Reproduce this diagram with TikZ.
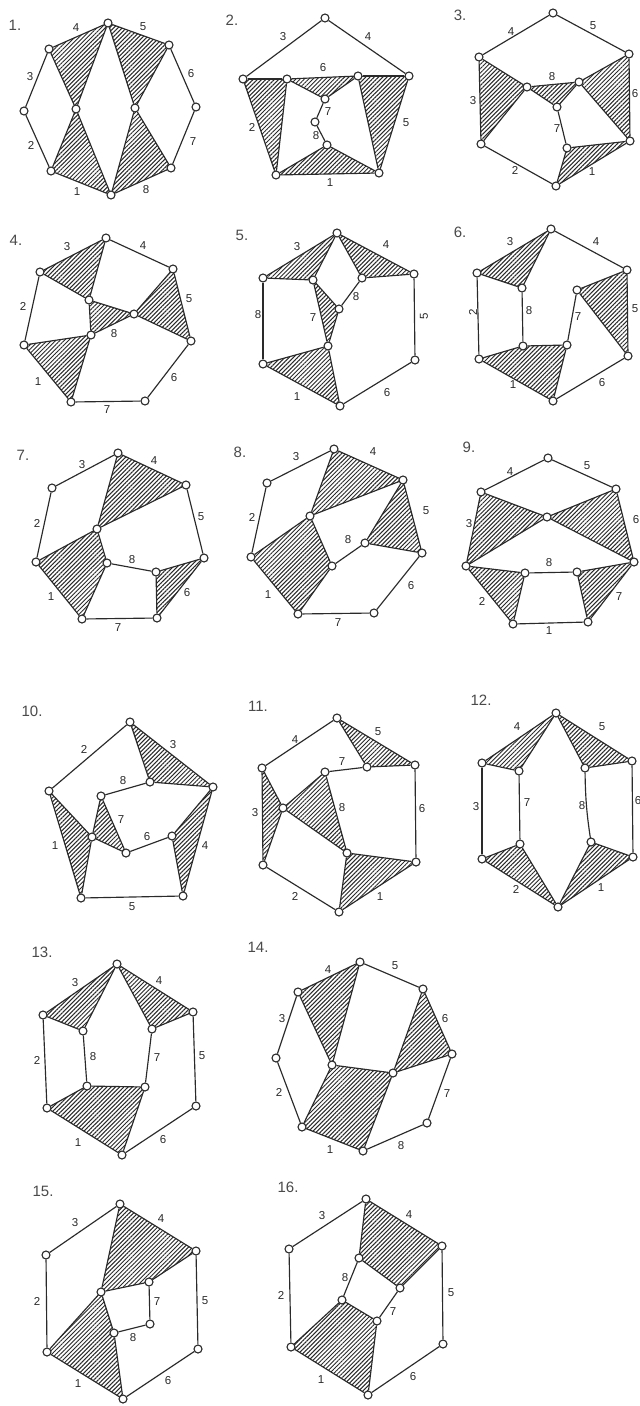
\documentclass[tikz,border=0pt]{standalone}
\usepackage{fontspec}
\setmainfont{Liberation Sans}
\usetikzlibrary{backgrounds,patterns.meta}
\definecolor{ink}{HTML}{2A2A2A}
\tikzset{
  vert/.style={circle,draw=ink,fill=white,line width=1.1pt,inner sep=0pt,minimum size=8pt},
  edge/.style={draw=ink,line width=1.15pt},
  hatch/.style={pattern={Lines[angle=45,distance=3pt,line width=1pt]},pattern color=ink},
  lab/.style={font=\fontsize{11.5}{13}\selectfont,text=ink,inner sep=0pt},
  ttl/.style={font=\fontsize{15}{17}\selectfont,text=ink!85,inner sep=0pt}
}
\newcommand\Vs[1]{\foreach \n/\x/\y in {#1}{\node[vert] (\n) at (\x,\y) {};}}
\newcommand\Es[1]{\begin{scope}[on background layer]\foreach \p/\q in {#1}{\draw[edge] (\p) -- (\q);}\end{scope}}
\newcommand\Bs[1]{\begin{scope}[on background layer]\foreach \p/\q/\r in {#1}{\draw[edge] (\p) to[bend left=\r] (\q);}\end{scope}}
\newcommand\Hs[1]{\begin{scope}[on background layer]\foreach \p/\q/\r/\s in {#1}{\fill[hatch] (\p.center) -- (\q.center) -- (\r.center) -- (\s.center) -- cycle;}\end{scope}}
\newcommand\Ls[1]{\foreach \t/\x/\y in {#1}{\node[lab] (l\t) at (\x,\y) {\t};}}
\newcommand\Tt[3]{\node[ttl] (title) at (#2,#3) {#1};}
\begin{document}
\begin{tikzpicture}[x=1pt,y=-1pt]
\useasboundingbox (0,0) rectangle (640,1406);
\begin{scope}[on background layer]
\fill[white] (0,0) rectangle (640,1406);
\end{scope}

\begin{scope}[name prefix=A-]
\Tt{1.}{15}{25}
\Vs{a/108/23,b/169/45,c/196/107,d/171/168,e/111/195,f/51/171,g/24/111,h/49/49,i/76/109,j/135/108}
\Hs{h/a/i/i,a/b/j/j,f/i/e/e,j/d/e/e}
\Es{h/a,a/b,b/c,c/d,d/e,e/f,f/g,g/h,h/i,b/j,f/i,j/d,a/i,a/j,i/e,j/e}
\Ls{1/77/192,8/146/190,7/193/142,6/191/74,5/143/27,4/76/28,3/30/77,2/31/145}
\end{scope}

\begin{scope}[name prefix=B-]
\Tt{2.}{232}{20}
\Vs{t/325/18,l/243/79,r/409/76,bl/276/175,br/379/173,u/287/79,v/358/76,p/325/99,q/315/122,s/327/145}
\Hs{l/u/bl/bl,v/r/br/br,u/v/p/p,bl/s/br/br}
\Es{t/l,t/r,l/u,u/v,v/r,l/bl,bl/br,br/r,u/bl,v/br,u/p,v/p,p/q,q/s,s/bl,s/br}
\Ls{3/283/37,4/368/37,5/406/123,1/330/183,2/252/127,6/323/68,7/328/112,8/316/136}
\end{scope}

\begin{scope}[name prefix=C-]
\Tt{3.}{460}{15}
\Vs{t/553/13,r/629/54,br/630/141,b/556/186,bl/481/144,l/479/57,m/527/87,n/579/82,o/557/107,p/567/148}
\Hs{l/m/bl/bl,m/n/o/o,n/r/br/br,p/br/b/b}
\Es{l/t,t/r,r/br,br/b,b/bl,bl/l,l/m,m/bl,m/n,n/r,n/br,m/o,n/o,o/p,p/br,p/b}
\Ls{4/511/32,5/593/26,6/635/94,1/592/172,2/515/170,3/473/101,8/552/77,7/557/129}
\end{scope}

\begin{scope}[name prefix=D-]
\Tt{4.}{16}{240}
\Vs{t/106/238,r/173/269,br/191/341,e/145/401,f/71/402,l/24/345,tl/40/272,a/89/300,b/91/335,c/134/314}
\Hs{tl/t/a/a,a/c/b/b,l/b/f/f,c/r/br/br}
\Es{tl/t,t/r,r/br,br/e,e/f,f/l,l/tl,tl/a,t/a,a/b,a/c,b/c,l/b,f/b,c/r,c/br}
\Ls{3/67/247,4/143/246,5/189/299,6/174/378,7/107/410,1/38/382,2/23/306,8/114/334}
\end{scope}

\begin{scope}[name prefix=E-]
\Tt{5.}{242}{235}
\Vs{t/337/233,r/414/274,br/415/360,b/340/406,bl/263/364,tl/263/278,a/313/280,c/362/278,d/339/309,e/328/346}
\Hs{tl/t/a/a,t/r/c/c,a/d/e/e,bl/e/b/b}
\Es{tl/t,t/r,r/br,br/b,b/bl,bl/tl,tl/a,a/t,t/c,c/r,c/d,d/a,a/e,d/e,bl/e,e/b}
\Ls{3/297/247,4/386/245,6/387/393,1/297/397,7/313/318}
\node[lab] (l2) at (258,315) {8};
\node[lab] (l8) at (356,297) {8};
\node[lab,rotate=90] (l5) at (424,316) {5};
\end{scope}

\begin{scope}[name prefix=F-]
\Tt{6.}{460}{232}
\Vs{t/551/229,r/627/270,br/628/356,b/553/401,bl/479/359,tl/477/273,a/522/288,c/523/346,d/567/345,e/577/290}
\Hs{tl/t/a/a,bl/c/d/b,e/r/br/br}
\Es{tl/t,t/r,r/br,br/b,b/bl,bl/tl,tl/a,t/a,a/c,bl/c,c/d,d/b,d/e,e/r,e/br}
\Ls{3/510/242,4/596/242,5/635/309,6/602/383,1/513/385,8/529/311,7/578/317}
\node[lab,rotate=90] (l2) at (473,312) {2};
\end{scope}

\begin{scope}[name prefix=G-]
\Tt{7.}{23}{455}
\Vs{t/118/453,r/186/485,br/204/558,e/157/618,f/82/619,l/36/562,tl/52/488,a/97/529,b/107/563,c/156/572}
\Hs{t/r/a/a,l/a/b/f,c/br/e/e}
\Es{tl/t,t/r,r/br,br/e,e/f,f/l,l/tl,t/a,a/r,l/a,a/b,b/f,b/c,c/br,c/e}
\Ls{3/82/465,4/154/461,5/201/517,6/187/593,7/118/628,1/51/597,2/37/523,8/132/560}
\end{scope}

\begin{scope}[name prefix=H-]
\Tt{8.}{240}{452}
\Vs{t/334/449,r/403/480,br/422/553,e/374/613,f/298/614,l/251/557,tl/267/483,a/310/516,b/332/566,c/365/543}
\Hs{t/r/a/a,l/a/b/f,c/r/br/br}
\Es{tl/t,t/r,r/br,br/e,e/f,f/l,l/tl,t/a,a/r,l/a,a/b,b/f,b/c,c/r,c/br}
\Ls{3/296/457,4/373/452,5/426/511,6/411/586,7/338/623,1/268/595,2/252/517,8/348/540}
\end{scope}

\begin{scope}[name prefix=I-]
\Tt{9.}{469}{447}
\Vs{t/548/458,r/616/489,br/634/562,e/588/622,f/513/624,l/466/566,tl/481/492,a/547/517,b/525/573,c/577/572}
\Hs{tl/a/l/l,a/r/br/br,l/b/f/f,c/br/e/e}
\Es{tl/t,t/r,r/br,br/e,e/f,f/l,l/tl,tl/a,a/r,a/l,a/br,l/b,b/c,c/br,b/f,c/e}
\Ls{4/510/472,5/587/466,6/636/520,7/619/597,1/549/631,2/482/601,3/469/524,8/549/563}
\end{scope}

\begin{scope}[name prefix=J-]
\Tt{10.}{32}{711}
\Vs{t/130/722,r/213/787,br/183/896,bl/81/898,l/49/791,a/150/782,b/101/796,c/92/837,d/126/853,e/172/836}
\Hs{t/r/a/a,l/c/bl/bl,b/d/c/c,e/r/br/br}
\Es{l/t,t/r,r/br,br/bl,bl/l,t/a,a/r,a/b,b/c,b/d,c/d,d/e,e/r,e/br,l/c,c/bl}
\Ls{2/84/749,3/173/745,8/123/781,7/121/820,6/147/837,4/205/846,5/132/907,1/55/846}
\end{scope}

\begin{scope}[name prefix=K-]
\Tt{11.}{258}{706}
\Vs{t/337/718,r/415/765,br/416/862,b/339/912,bl/263/865,tl/262/768,a/283/808,c/367/767,d/325/772,e/347/853}
\Hs{tl/a/bl/bl,a/d/e/e,t/r/c/c,e/br/b/b}
\Es{tl/t,t/r,r/br,br/b,b/bl,bl/tl,tl/a,a/bl,a/d,d/c,c/t,c/r,d/e,a/e,e/br,e/b}
\Ls{4/295/740,5/378/732,6/422/809,1/380/897,2/295/896,3/255/813,7/342/762,8/342/808}
\end{scope}

\begin{scope}[name prefix=L-]
\Tt{12.}{481}{700}
\Vs{t/556/713,r/632/761,br/633/857,b/558/907,bl/482/859,tl/482/763,a/519/771,c/585/768,d/520/844,e/591/842}
\Hs{tl/t/a/a,t/r/c/c,bl/d/b/b,e/br/b/b}
\Es{tl/t,t/r,r/br,br/b,b/bl,bl/tl,tl/a,a/t,t/c,c/r,a/d,bl/d,d/b,e/br,e/b}
\Bs{c/e/-4}
\Ls{4/517/727,5/602/727,3/476/807,7/527/803,8/582/806,6/638/801,2/516/889,1/601/888}
\end{scope}

\begin{scope}[name prefix=M-]
\Tt{13.}{42}{952}
\Vs{t/117/964,r/193/1012,br/196/1106,b/122/1155,bl/47/1108,tl/43/1015,a/83/1031,c/152/1029,d/87/1086,e/145/1087}
\Hs{tl/t/a/a,t/r/c/c,bl/d/e/b}
\Es{tl/t,t/r,r/br,br/b,b/bl,bl/tl,tl/a,a/t,t/c,c/r,a/d,c/e,bl/d,d/e,e/b}
\Ls{3/75/983,4/159/981,5/202/1056,7/157/1058,8/93/1057,2/37/1060,6/163/1140,1/78/1143}
\end{scope}

\begin{scope}[name prefix=N-]
\Tt{14.}{258}{947}
\Vs{t/360/962,r/423/989,br/452/1054,e/427/1123,b/363/1151,bl/302/1127,l/276/1058,tl/298/992,a/332/1065,c/393/1073}
\Hs{tl/t/a/a,bl/a/c/b,c/r/br/br}
\Es{tl/t,t/r,r/br,br/e,e/b,b/bl,bl/l,l/tl,tl/a,t/a,a/c,bl/a,c/b,c/r,c/br}
\Ls{4/328/970,5/395/966,6/445/1019,7/447/1094,8/401/1146,1/330/1150,2/279/1092,3/282/1019}
\end{scope}

\begin{scope}[name prefix=O-]
\Tt{15.}{43}{1191}
\Vs{t/120/1204,r/196/1251,br/198/1349,b/123/1399,bl/47/1352,tl/46/1255,a/101/1292,c/149/1282,d/150/1324,e/114/1333}
\Hs{t/r/c/a,bl/a/e/b}
\Es{tl/t,t/r,r/br,br/b,b/bl,bl/tl,t/a,a/c,c/r,c/d,d/e,a/e,e/b,bl/a}
\Ls{3/75/1223,4/161/1219,5/205/1301,7/157/1302,2/37/1301,8/133/1338,6/168/1381,1/78/1384}
\end{scope}

\begin{scope}[name prefix=P-]
\Tt{16.}{288}{1187}
\Vs{t/366/1199,r/442/1246,br/443/1344,b/368/1395,bl/291/1347,tl/289/1249,a/359/1258,c/400/1288,d/342/1300,e/377/1321}
\Hs{t/r/c/a,bl/d/e/b}
\Es{tl/t,t/r,r/br,br/b,b/bl,bl/tl,t/a,a/c,c/r,a/d,c/e,d/e,bl/d,e/b}
\Ls{3/322/1216,4/409/1215,5/451/1293,2/281/1295,8/345/1278,7/393/1312,6/413/1377,1/321/1380}
\end{scope}
\end{tikzpicture}
\end{document}
